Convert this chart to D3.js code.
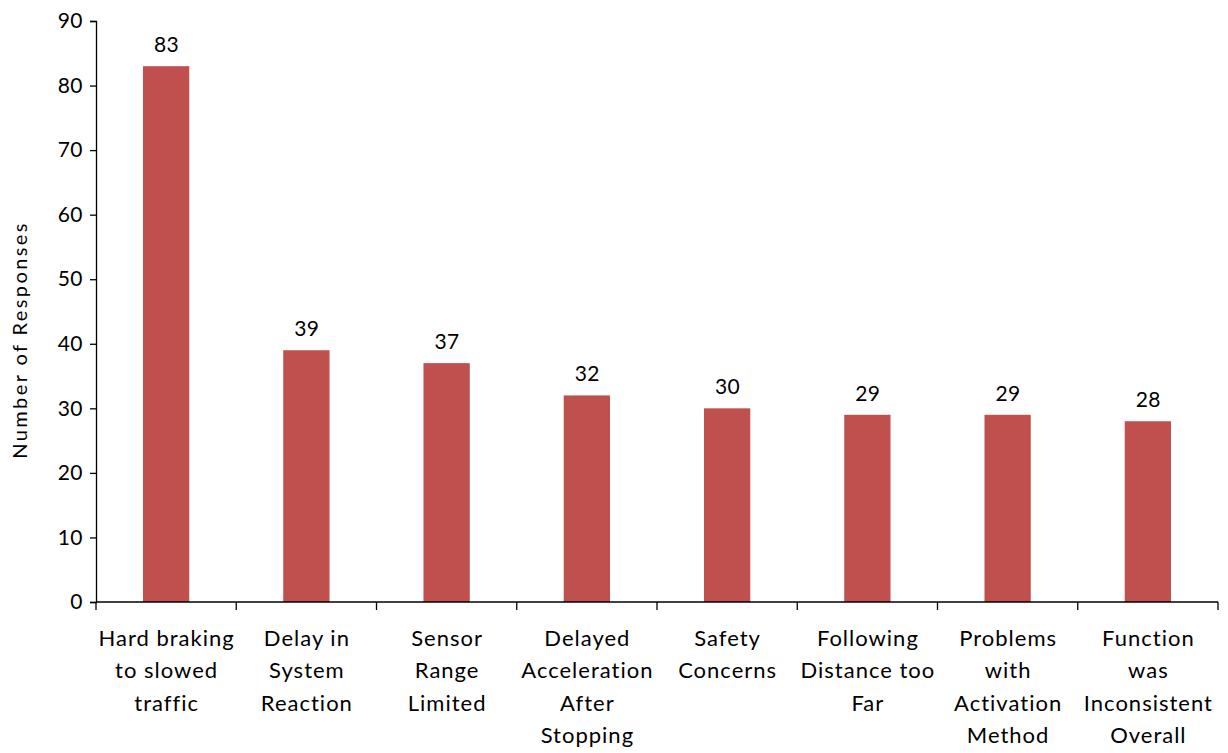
<!DOCTYPE html>
<html>
<head>
<meta charset="utf-8">
<script src="https://d3js.org/d3.v7.min.js"></script>
<style>
  body { margin: 0; background: #fff; }
  svg text { font-family: Lato, "Open Sans", sans-serif; fill: #000; }
</style>
</head>
<body>
<svg id="chart" width="1228" height="753"></svg>
<script>
// categories (each label already split into lines as in the picture)
const categories = [
  ["Hard braking", "to slowed", "traffic"],
  ["Delay in", "System", "Reaction"],
  ["Sensor", "Range", "Limited"],
  ["Delayed", "Acceleration", "After", "Stopping"],
  ["Safety", "Concerns"],
  ["Following", "Distance too", "Far"],
  ["Problems", "with", "Activation", "Method"],
  ["Function", "was", "Inconsistent", "Overall"]
];
const responses = [83, 39, 37, 32, 30, 29, 29, 28];
const yTicks = [0, 10, 20, 30, 40, 50, 60, 70, 80, 90];
const yTitle = "Number of Responses";

const margin = {left: 96, right: 10, top: 21, bottom: 151};
const width = 1228, height = 753;
const svg = d3.select("#chart");

const keys = categories.map((c, i) => i);
const x = d3.scaleBand().domain(keys)
  .range([margin.left, width - margin.right])
  .paddingInner(0.67).paddingOuter(0.335);
const y = d3.scaleLinear().domain([0, 90]).range([height - margin.bottom, margin.top]);

// bars
svg.append("g").selectAll("rect")
  .data(responses)
  .join("rect")
  .attr("x", (d, i) => x(i))
  .attr("y", d => y(d))
  .attr("width", x.bandwidth())
  .attr("height", d => y(0) - y(d))
  .attr("fill", "#C0504D");

// value labels
svg.append("g").selectAll("text")
  .data(responses)
  .join("text")
  .attr("x", (d, i) => x(i) + x.bandwidth() / 2 + 0.5)
  .attr("y", d => y(d) - 14)
  .attr("text-anchor", "middle")
  .style("font-size", "21px")
  .style("letter-spacing", "0.5px")
  .text(d => d);

// y axis
const yAxis = svg.append("g")
  .attr("transform", "translate(" + margin.left + ",0)")
  .call(d3.axisLeft(y).tickValues(yTicks).tickSize(6).tickPadding(7));
yAxis.select(".domain").attr("stroke", "#000").attr("stroke-width", 1.3);
yAxis.selectAll(".tick line").attr("stroke", "#000").attr("stroke-width", 1.3);
yAxis.selectAll(".tick text").style("font-size", "21px").style("letter-spacing", "0.5px").attr("fill", "#000");

// x axis: ticks at category boundaries
const step = x.step();
const bounds = d3.range(categories.length + 1).map(i => margin.left + i * step);
const xg = svg.append("g");
xg.append("line")
  .attr("x1", margin.left).attr("x2", width - margin.right)
  .attr("y1", y(0)).attr("y2", y(0))
  .attr("stroke", "#000").attr("stroke-width", 1.3);
xg.selectAll("line.tk")
  .data(bounds)
  .join("line").attr("class", "tk")
  .attr("x1", d => d).attr("x2", d => d)
  .attr("y1", y(0)).attr("y2", y(0) + 8)
  .attr("stroke", "#000").attr("stroke-width", 1.3);

// category labels
const lab = svg.append("g").selectAll("text")
  .data(categories)
  .join("text")
  .attr("text-anchor", "middle")
  .style("font-size", "22px")
  .style("letter-spacing", "1px")
  .attr("transform", (d, i) => "translate(" + (x(i) + x.bandwidth() / 2 + 0.5) + "," + (y(0) + 44) + ")");
lab.selectAll("tspan")
  .data(d => d)
  .join("tspan")
  .attr("x", 0)
  .attr("y", (d, j) => j * 32.4)
  .text(d => d);

// y title
svg.append("text")
  .attr("transform", "translate(27,340) rotate(-90)")
  .attr("text-anchor", "middle")
  .style("font-size", "20px")
  .style("letter-spacing", "2.4px")
  .text(yTitle);
</script>
</body>
</html>
